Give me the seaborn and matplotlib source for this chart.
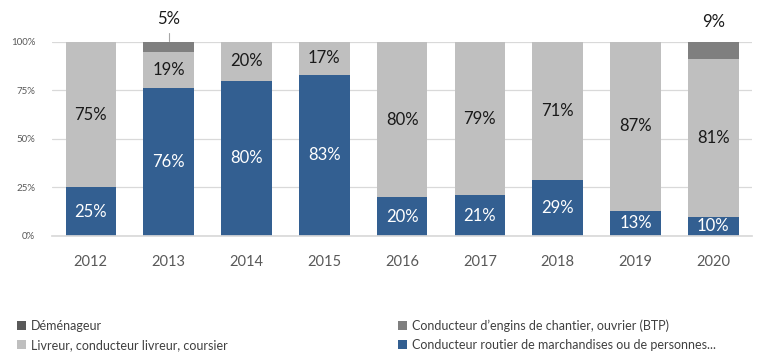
import matplotlib
matplotlib.use("Agg")
import matplotlib.pyplot as plt
from matplotlib.patches import Patch
import seaborn as sns
import pandas as pd
import numpy as np

years = ["2012", "2013", "2014", "2015", "2016", "2017", "2018", "2019", "2020"]
demenageur = [0, 0, 0, 0, 0, 0, 0, 0, 0]
btp = [0, 5, 0, 0, 0, 0, 0, 0, 9]
livreur = [75, 19, 20, 17, 80, 79, 71, 87, 81]
routier = [25, 76, 80, 83, 20, 21, 29, 13, 10]

series_names = [
    "Déménageur",
    "Conducteur d’engins de chantier, ouvrier (BTP)",
    "Livreur, conducteur livreur, coursier",
    "Conducteur routier de marchandises ou de personnes...",
]
colors = ["#595959", "#7f7f7f", "#bfbfbf", "#335f91"]

df = pd.DataFrame({
    "year": years,
    "dem": demenageur,
    "btp": btp,
    "liv": livreur,
    "rou": routier,
})
df["c_rou"] = df["rou"]
df["c_liv"] = df["c_rou"] + df["liv"]
df["c_btp"] = df["c_liv"] + df["btp"]
df["c_dem"] = df["c_btp"] + df["dem"]

sns.set_theme(style="white")
plt.rcParams["font.family"] = ["Lato", "DejaVu Sans"]

fig = plt.figure(figsize=(7.63, 3.58), dpi=100, facecolor="white")
ax = fig.add_axes([0.068, 0.341, 0.918, 0.542])

# cumulative layers drawn from the tallest down so each stack shows its parts
for col, color in zip(["c_dem", "c_btp", "c_liv", "c_rou"], colors):
    sns.barplot(data=df, x="year", y=col, color=color, width=0.65,
                saturation=1, ax=ax, linewidth=0)

ax.set_xlim(-0.5, len(years) - 0.5)
ax.set_ylim(0, 100)
ax.set_yticks([0, 25, 50, 75, 100])
ax.set_yticklabels(["0%", "25%", "50%", "75%", "100%"], fontsize=7, color="#595959")
ax.tick_params(axis="y", length=0, pad=12)
ax.tick_params(axis="x", length=0, pad=14, labelsize=10.5, labelcolor="#595959")
ax.set_xlabel("")
ax.set_ylabel("")
ax.yaxis.grid(True, color="#d9d9d9", linewidth=0.9)
ax.set_axisbelow(True)
for s in ["top", "right", "left"]:
    ax.spines[s].set_visible(False)
ax.spines["bottom"].set_color("#d9d9d9")

for i in range(len(years)):
    r, l, b = routier[i], livreur[i], btp[i]
    ax.text(i, r / 2, f"{r}%", ha="center", va="center", fontsize=12, color="white")
    ax.text(i, r + l / 2, f"{l}%", ha="center", va="center", fontsize=12, color="#1a1a1a")
    if b:
        top_y = 112 if i == 1 else 110
        ax.text(i, top_y, f"{b}%", ha="center", va="center", fontsize=12,
                color="#1a1a1a", clip_on=False)
        if i == 1:
            ax.plot([i, i], [100.5, 104.5], color="#a6a6a6", linewidth=0.8, clip_on=False)

handles = [Patch(facecolor=c, edgecolor="none") for c in colors]
order = [0, 2, 1, 3]
fig.legend([handles[k] for k in order], [series_names[k] for k in order],
           ncol=2, loc="lower left", bbox_to_anchor=(0.008, -0.012),
           frameon=False, fontsize=9, handlelength=0.7, handleheight=0.7,
           handletextpad=0.4, columnspacing=13.6, labelspacing=0.6,
           labelcolor="#404040")

fig.savefig("out.png", dpi=100, facecolor="white")
